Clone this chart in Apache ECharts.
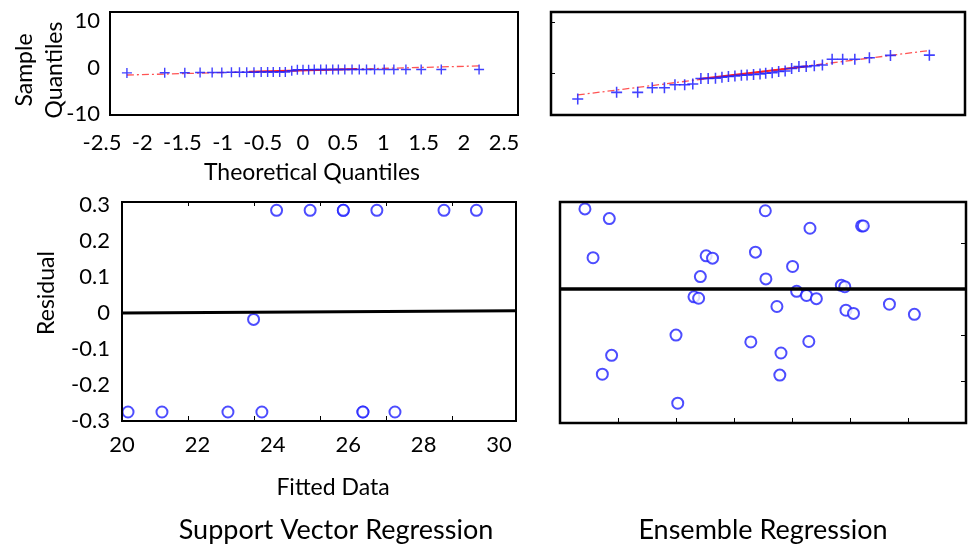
<!DOCTYPE html>
<html>
<head>
<meta charset="utf-8">
<script src="https://cdn.jsdelivr.net/npm/echarts@6/dist/echarts.min.js"></script>
<style>
  html, body { margin: 0; padding: 0; background: #fff; }
  #main { width: 968px; height: 550px; }
</style>
</head>
<body>
<div id="main"></div>
<script>
// Q-Q plot, support vector regression (top left)
var tqLeft = [-2.19, -1.72, -1.47, -1.28, -1.13, -1.01, -0.89, -0.79, -0.70, -0.61, -0.52, -0.44, -0.37, -0.29, -0.22, -0.14, -0.07, 0,
  0.07, 0.14, 0.22, 0.29, 0.37, 0.44, 0.52, 0.61, 0.70, 0.79, 0.89, 1.01, 1.13, 1.28, 1.47, 1.72, 2.19];
var sqLeft = [-1.15, -1.1, -1.1, -1.05, -1.05, -1.05, -1.0, -1.0, -1.0, -1.0, -0.95, -0.95, -0.95, -0.95, -0.95, -0.7, -0.45, -0.45,
  -0.45, -0.4, -0.4, -0.4, -0.4, -0.4, -0.4, -0.4, -0.4, -0.4, -0.4, -0.4, -0.4, -0.4, -0.4, -0.4, -0.4];
var refLeft = [[-2.19, -1.6], [2.19, 0.35]];
var quartLeft = [[-0.67, -0.92], [0.67, -0.33]];

// Q-Q plot, ensemble regression (top right)
var tqRight = [-2.17, -1.69, -1.43, -1.25, -1.10, -0.97, -0.85, -0.75, -0.65, -0.56, -0.47, -0.39, -0.31, -0.23, -0.15, -0.08, 0,
  0.08, 0.15, 0.23, 0.31, 0.39, 0.47, 0.56, 0.65, 0.75, 0.85, 0.97, 1.10, 1.25, 1.43, 1.69, 2.17];
var sqRight = [-5.1, -3.8, -3.8, -2.9, -2.9, -2.3, -2.3, -2.15, -1.1, -1.1, -1.05, -0.85, -0.7, -0.6, -0.45, -0.4, -0.3,
  -0.2, -0.05, 0.05, 0.3, 0.4, 0.9, 1.25, 1.25, 1.4, 1.55, 2.7, 2.7, 2.7, 3.0, 3.45, 3.5];
var refRight = [[-2.17, -4.3], [2.17, 4.4]];
var quartRight = [[-0.67, -1.2], [0.67, 1.3]];

// residuals vs fitted, support vector regression (bottom left)
var svrFitted = [20.16, 21.06, 22.81, 23.71, 26.39, 26.39, 27.24, 23.49, 24.10, 24.99, 25.87, 25.87, 26.76, 28.54, 29.40];
var svrResid = [-0.275, -0.275, -0.275, -0.275, -0.275, -0.275, -0.275, -0.018, 0.285, 0.285, 0.285, 0.285, 0.285, 0.285, 0.285];
var svrZero = [[20, 0], [30.45, 0.006]];

// residuals, ensemble regression (bottom right)
var ensX = [0.43, 0.85, 0.57, 3.54, 4.31, 5.20, 5.23, 2.52, 2.63, 3.37, 4.01, 2.42, 3.55, 4.85, 4.91, 2.31, 2.39,
  4.08, 4.25, 4.42, 3.74, 4.93, 5.06, 5.68, 6.11, 2.00, 3.29, 4.29, 3.81, 0.89, 0.73, 3.79, 2.03];
var ensY = [0.174, 0.153, 0.068, 0.170, 0.132, 0.137, 0.137, 0.072, 0.067, 0.080, 0.049, 0.027, 0.022, 0.008, 0.005, -0.017, -0.020,
  -0.005, -0.014, -0.021, -0.038, -0.046, -0.053, -0.033, -0.055, -0.100, -0.115, -0.114, -0.139, -0.144, -0.185, -0.187, -0.248];
var ensZero = [[0, 0], [7, 0]];

// tick labels
var qqXLabels = [-2.5, -2, -1.5, -1, -0.5, 0, 0.5, 1, 1.5, 2, 2.5];
var qqYLabels = [-10, 0, 10];
var fittedLabels = [20, 22, 24, 26, 28, 30];
var fittedTicks = [21.75, 23.5, 25.25, 27, 28.75];
var residLabels = [-0.3, -0.2, -0.1, 0, 0.1, 0.2, 0.3];

var FONT = 'Lato, "Open Sans", sans-serif';
var BLUE = '#2020ff';
var plus = 'path://M0,4.3H10V5.7H0Z M4.3,0H5.7V10H4.3Z';

function pairs(xs, ys) {
  return xs.map(function (x, i) { return [x, ys[i]]; });
}

var chart = echarts.init(document.getElementById('main'), null, { renderer: 'canvas' });

var label = { fontSize: 22, color: '#000', fontFamily: FONT };
var noLine = { show: false, onZero: false };
var tickStyle = { color: '#000', width: 1 };

var option = {
  animation: false,
  grid: [
    { left: 102, top: 12, width: 402, height: 103, outerBoundsMode: 'none' },
    { left: 551, top: 12, width: 414, height: 103, outerBoundsMode: 'none' },
    { left: 122, top: 202, width: 394, height: 219, outerBoundsMode: 'none' },
    { left: 560, top: 202, width: 406, height: 221, outerBoundsMode: 'none' }
  ],
  xAxis: [
    {
      gridIndex: 0, type: 'value', min: -2.5, max: 2.5,
      axisLine: noLine, splitLine: { show: false }, axisTick: { show: false },
      axisLabel: Object.assign({ margin: 17, customValues: qqXLabels }, label)
    },
    {
      gridIndex: 1, type: 'value', min: -2.5, max: 2.61,
      axisLine: noLine, splitLine: { show: false }, axisTick: { show: false }, axisLabel: { show: false }
    },
    {
      gridIndex: 2, type: 'value', min: 20, max: 30.45,
      axisLine: noLine, splitLine: { show: false },
      axisTick: { inside: true, length: 5, customValues: fittedTicks, lineStyle: tickStyle },
      axisLabel: Object.assign({ margin: 13, customValues: fittedLabels }, label)
    },
    {
      gridIndex: 3, type: 'value', min: 0, max: 7, interval: 1,
      axisLine: noLine, splitLine: { show: false },
      axisTick: { inside: true, length: 5, lineStyle: tickStyle },
      axisLabel: { show: false }
    },
    {
      gridIndex: 2, type: 'value', position: 'top', min: 20, max: 30.45,
      axisLine: noLine, splitLine: { show: false },
      axisTick: { inside: true, length: 4, customValues: fittedTicks, lineStyle: tickStyle },
      axisLabel: { show: false }
    }
  ],
  yAxis: [
    {
      gridIndex: 0, type: 'value', min: -10.2, max: 11.95,
      axisLine: noLine, splitLine: { show: false }, axisTick: { show: false },
      axisLabel: Object.assign({ margin: 2, customValues: qqYLabels }, label)
    },
    {
      gridIndex: 1, type: 'value', position: 'left', min: -8.24, max: 11.96,
      axisLine: noLine, splitLine: { show: false },
      axisTick: { inside: true, length: 4, customValues: [0, 10], lineStyle: tickStyle },
      axisLabel: { show: false }
    },
    {
      gridIndex: 2, type: 'value', min: -0.3, max: 0.308,
      axisLine: noLine, splitLine: { show: false }, axisTick: { show: false },
      axisLabel: Object.assign({ margin: 12, customValues: residLabels }, label)
    },
    {
      gridIndex: 3, type: 'value', position: 'right', min: -0.291, max: 0.189,
      axisLine: noLine, splitLine: { show: false },
      axisTick: { inside: true, length: 5, customValues: [-0.2, -0.1, 0, 0.1], lineStyle: tickStyle },
      axisLabel: { show: false }
    }
  ],
  series: [
    {
      type: 'line', xAxisIndex: 0, yAxisIndex: 0, data: refLeft, showSymbol: false, z: 2,
      lineStyle: { color: 'rgba(255,40,40,0.8)', width: 1.3, type: [7, 3, 2, 3] }
    },
    {
      type: 'line', xAxisIndex: 0, yAxisIndex: 0, data: quartLeft, showSymbol: false, z: 2,
      lineStyle: { color: '#ff2020', width: 2 }
    },
    {
      type: 'scatter', xAxisIndex: 0, yAxisIndex: 0, data: pairs(tqLeft, sqLeft), z: 3,
      symbol: plus, symbolSize: 10, itemStyle: { color: BLUE, opacity: 0.85 }
    },
    {
      type: 'line', xAxisIndex: 1, yAxisIndex: 1, data: refRight, showSymbol: false, z: 2,
      lineStyle: { color: 'rgba(255,40,40,0.8)', width: 1.3, type: [7, 3, 2, 3] }
    },
    {
      type: 'line', xAxisIndex: 1, yAxisIndex: 1, data: quartRight, showSymbol: false, z: 2,
      lineStyle: { color: '#ff2020', width: 2 }
    },
    {
      type: 'scatter', xAxisIndex: 1, yAxisIndex: 1, data: pairs(tqRight, sqRight), z: 3,
      symbol: plus, symbolSize: 11, itemStyle: { color: BLUE, opacity: 0.85 }
    },
    {
      type: 'line', xAxisIndex: 2, yAxisIndex: 2, data: svrZero, showSymbol: false,
      lineStyle: { color: '#000', width: 3 }
    },
    {
      type: 'scatter', xAxisIndex: 2, yAxisIndex: 2, data: pairs(svrFitted, svrResid),
      symbol: 'emptyCircle', symbolSize: 11, itemStyle: { color: BLUE, borderColor: BLUE, borderWidth: 1.6 }
    },
    {
      type: 'line', xAxisIndex: 3, yAxisIndex: 3, data: ensZero, showSymbol: false,
      lineStyle: { color: '#000', width: 3.5 }
    },
    {
      type: 'scatter', xAxisIndex: 3, yAxisIndex: 3, data: pairs(ensX, ensY),
      symbol: 'emptyCircle', symbolSize: 11, itemStyle: { color: BLUE, borderColor: BLUE, borderWidth: 1.6 }
    }
  ],
  graphic: [
    // panel frames
    { type: 'rect', shape: { x: 110, y: 12, width: 408, height: 103 }, style: { fill: 'none', stroke: '#000', lineWidth: 2 }, z: 10 },
    { type: 'rect', shape: { x: 551, y: 12, width: 414, height: 103 }, style: { fill: 'none', stroke: '#000', lineWidth: 2.5 }, z: 10 },
    { type: 'rect', shape: { x: 122, y: 202, width: 394, height: 219 }, style: { fill: 'none', stroke: '#000', lineWidth: 2 }, z: 10 },
    { type: 'rect', shape: { x: 560, y: 202, width: 406, height: 221 }, style: { fill: 'none', stroke: '#000', lineWidth: 2.5 }, z: 10 },
    // axis names and panel captions
    { type: 'text', x: 25, y: 70, rotation: Math.PI / 2, style: { text: 'Sample', font: '23px ' + FONT, fill: '#000', textAlign: 'center', textVerticalAlign: 'middle' } },
    { type: 'text', x: 55, y: 70, rotation: Math.PI / 2, style: { text: 'Quantiles', font: '23px ' + FONT, fill: '#000', textAlign: 'center', textVerticalAlign: 'middle' } },
    { type: 'text', x: 312, y: 173, style: { text: 'Theoretical Quantiles', font: '23px ' + FONT, fill: '#000', textAlign: 'center', textVerticalAlign: 'middle' } },
    { type: 'text', x: 47, y: 293, rotation: Math.PI / 2, style: { text: 'Residual', font: '23px ' + FONT, fill: '#000', textAlign: 'center', textVerticalAlign: 'middle' } },
    { type: 'text', x: 333, y: 488, style: { text: 'Fitted Data', font: '23px ' + FONT, fill: '#000', textAlign: 'center', textVerticalAlign: 'middle' } },
    { type: 'text', x: 336, y: 530, style: { text: 'Support Vector Regression', font: '27px ' + FONT, fill: '#000', textAlign: 'center', textVerticalAlign: 'middle' } },
    { type: 'text', x: 763, y: 530, style: { text: 'Ensemble Regression', font: '27px ' + FONT, fill: '#000', textAlign: 'center', textVerticalAlign: 'middle' } }
  ]
};

chart.setOption(option);
</script>
</body>
</html>
